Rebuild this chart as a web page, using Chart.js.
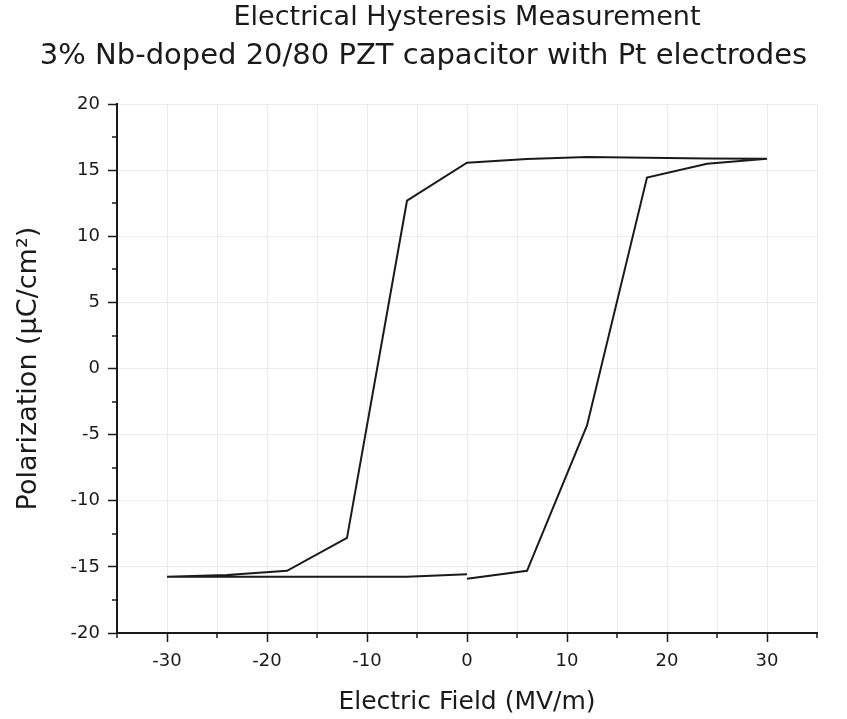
<!DOCTYPE html>
<html>
<head>
<meta charset="utf-8">
<title>Electrical Hysteresis Measurement</title>
<script src="https://cdn.jsdelivr.net/npm/chart.js@4/dist/chart.umd.min.js"></script>
<style>
    html, body { margin: 0; padding: 0; background: #ffffff; }
    #wrap { width: 847px; height: 719px; }
</style>
</head>
<body>
<div id="wrap"><canvas id="loopChart"></canvas></div>
<script>
// Hysteresis loop, traced in drawing order (E in MV/m, P in uC/cm2)
const fieldValues = [0, 6, 12, 18, 24, 30, 24, 18, 12, 6, 0, -6, -12, -18, -24, -30, -24, -18, -12, -6, 0];
const polarizationValues = [-15.9, -15.3, -4.3, 14.45, 15.5, 15.87, 15.9, 15.95, 16.0, 15.85, 15.57, 12.7, -12.8, -15.3, -15.62, -15.75, -15.75, -15.75, -15.75, -15.75, -15.55];

// Axis ticks
const xMajorTicks = [-30, -20, -10, 0, 10, 20, 30];
const xMinorTicks = [-35, -25, -15, -5, 5, 15, 25, 35];
const yMajorTicks = [-20, -15, -10, -5, 0, 5, 10, 15, 20];
const yMinorTicks = [-17.5, -12.5, -7.5, -2.5, 2.5, 7.5, 12.5, 17.5];

const titleLines = ['Electrical Hysteresis Measurement', '3% Nb-doped 20/80 PZT capacitor with Pt electrodes'];
const xTitle = 'Electric Field (MV/m)';
const yTitle = 'Polarization (\u00b5C/cm\u00b2)';

const FONT = "'DejaVu Sans', sans-serif";
const INK = '#1a1a1a';
const GRID = '#ebebeb';

Chart.defaults.font.family = FONT;
Chart.defaults.color = INK;

// Short outward tick marks for the minor positions
const minorTicksPlugin = {
    id: 'minorTicks',
    afterDraw(chart) {
        const ctx = chart.ctx;
        const xs = chart.scales.x;
        const ys = chart.scales.y;
        const area = chart.chartArea;
        ctx.save();
        ctx.strokeStyle = INK;
        ctx.lineWidth = 1.5;
        ctx.beginPath();
        xMinorTicks.forEach(v => {
            const px = Math.round(xs.getPixelForValue(v));
            ctx.moveTo(px, area.bottom);
            ctx.lineTo(px, area.bottom + 5);
        });
        yMinorTicks.forEach(v => {
            const py = Math.round(ys.getPixelForValue(v));
            ctx.moveTo(area.left - 5, py);
            ctx.lineTo(area.left, py);
        });
        ctx.stroke();
        ctx.restore();
    }
};

const points = fieldValues.map((x, i) => ({ x: x, y: polarizationValues[i] }));

new Chart(document.getElementById('loopChart'), {
    type: 'line',
    data: {
        datasets: [{
            label: 'P-E loop',
            data: points,
            borderColor: INK,
            borderWidth: 2,
            pointRadius: 0,
            fill: false,
            tension: 0
        }]
    },
    options: {
        responsive: true,
        maintainAspectRatio: false,
        animation: false,
        layout: { padding: 0 },
        plugins: {
            legend: { display: false },
            tooltip: { enabled: false },
            title: {
                display: true,
                text: titleLines[0],
                fullSize: false,
                font: { size: 27, weight: 'normal', lineHeight: 1.2 },
                color: INK,
                padding: { top: 2, bottom: 5 }
            },
            subtitle: {
                display: true,
                text: titleLines[1],
                font: { size: 29, weight: 'normal', lineHeight: 1.2 },
                color: INK,
                padding: { top: 0, bottom: 30 }
            }
        },
        scales: {
            x: {
                type: 'linear',
                min: -35,
                max: 35,
                afterFit: scale => { scale.height = 86; },
                afterBuildTicks: scale => {
                    scale.ticks = xMajorTicks.concat(xMinorTicks).sort((a, b) => a - b).map(v => ({ value: v }));
                },
                ticks: {
                    autoSkip: false,
                    maxRotation: 0,
                    padding: 9,
                    font: { size: 18 },
                    callback: v => (xMajorTicks.includes(v) ? String(v) : '')
                },
                grid: {
                    color: GRID,
                    lineWidth: 1,
                    tickLength: 9,
                    tickWidth: 1.5,
                    tickColor: c => (xMajorTicks.includes(c.tick.value) ? INK : 'rgba(0,0,0,0)')
                },
                border: { display: true, color: INK, width: 2 },
                title: {
                    display: true,
                    text: xTitle,
                    font: { size: 25, lineHeight: 1.2 },
                    padding: { top: 0, bottom: 2 }
                }
            },
            y: {
                type: 'linear',
                min: -20,
                max: 20,
                afterFit: scale => { scale.width = 117; },
                afterBuildTicks: scale => {
                    scale.ticks = yMajorTicks.map(v => ({ value: v }));
                },
                ticks: {
                    padding: 8,
                    font: { size: 18 },
                    callback: v => String(v)
                },
                grid: {
                    color: GRID,
                    lineWidth: 1,
                    tickLength: 9,
                    tickWidth: 1.5,
                    tickColor: INK
                },
                border: { display: true, color: INK, width: 2 },
                title: {
                    display: true,
                    text: yTitle,
                    font: { size: 27, lineHeight: 1.2 },
                    padding: { top: 13, bottom: 0 }
                }
            },
            // empty strip on the right so the plot ends where the reference does
            yRight: {
                type: 'linear',
                position: 'right',
                display: true,
                afterFit: scale => { scale.width = 30; },
                ticks: { display: false },
                grid: { display: false },
                border: { display: false }
            }
        }
    },
    plugins: [minorTicksPlugin]
});
</script>
</body>
</html>
